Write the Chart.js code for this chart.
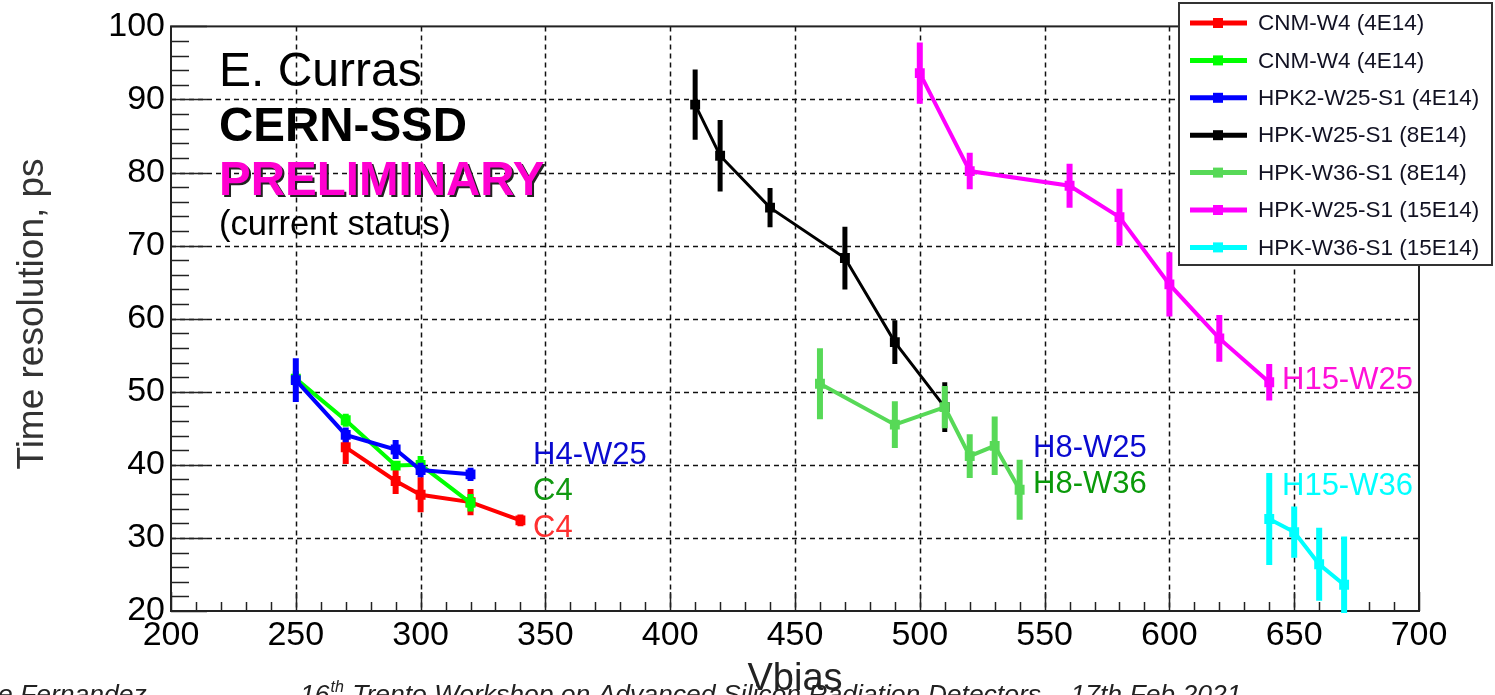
<!DOCTYPE html>
<html>
<head>
<meta charset="utf-8">
<script src="https://cdn.jsdelivr.net/npm/chart.js@4.4.1/dist/chart.umd.min.js"></script>
<style>
  html, body { margin: 0; padding: 0; background: #fff; overflow: hidden; }
  canvas { display: block; }
</style>
</head>
<body>
<canvas id="resPlot" width="1495" height="695"></canvas>
<script>
// series names, in drawing order
const seriesLabels = [
  'CNM-W4 (4E14)', 'CNM-W4 (4E14)', 'HPK2-W25-S1 (4E14)', 'HPK-W25-S1 (8E14)',
  'HPK-W36-S1 (8E14)', 'HPK-W25-S1 (15E14)', 'HPK-W36-S1 (15E14)'
];

// bias voltage (V), time resolution (ps) and its error (ps) per series
const cnmRedV = [270, 290, 300, 320, 340];
const cnmRedT = [42.4, 37.8, 35.9, 34.9, 32.4];
const cnmRedE = [2.3, 1.8, 2.4, 1.8, 0.8];

const cnmGreenV = [250, 270, 290, 300, 320];
const cnmGreenT = [51.8, 46.1, 39.9, 40.0, 34.8];
const cnmGreenE = [1.0, 0.9, 0.5, 1.2, 1.2];

const hpk2W25V = [250, 270, 290, 300, 320];
const hpk2W25T = [51.6, 44.1, 42.1, 39.3, 38.7];
const hpk2W25E = [3.0, 1.0, 1.3, 1.0, 0.9];

const w25e8V = [410, 420, 440, 470, 490, 510];
const w25e8T = [89.3, 82.3, 75.2, 68.3, 56.8, 47.9];
const w25e8E = [4.8, 4.9, 2.7, 4.3, 3.0, 3.4];

const w36e8V = [460, 490, 510, 520, 530, 540];
const w36e8T = [51.1, 45.5, 47.9, 41.2, 42.6, 36.6];
const w36e8E = [4.85, 3.2, 2.9, 3.0, 4.0, 4.1];

const w25e15V = [500, 520, 560, 580, 600, 620, 640];
const w25e15T = [93.6, 80.2, 78.2, 73.9, 64.7, 57.3, 51.3];
const w25e15E = [4.2, 2.5, 3.0, 3.9, 4.4, 3.2, 2.5];

const w36e15V = [640, 650, 660, 670];
const w36e15T = [32.6, 30.8, 26.4, 23.6];
const w36e15E = [6.3, 3.5, 5.0, 6.6];

// axis ticks
const xTickValues = [200, 250, 300, 350, 400, 450, 500, 550, 600, 650, 700];
const yTickValues = [20, 30, 40, 50, 60, 70, 80, 90, 100];

const allV = [cnmRedV, cnmGreenV, hpk2W25V, w25e8V, w36e8V, w25e15V, w36e15V];
const allT = [cnmRedT, cnmGreenT, hpk2W25T, w25e8T, w36e8T, w25e15T, w36e15T];
const allE = [cnmRedE, cnmGreenE, hpk2W25E, w25e8E, w36e8E, w25e15E, w36e15E];

const colors = ['#ff0000', '#00ff00', '#0000ff', '#000000', '#57d957', '#ff00ff', '#00ffff'];
const lineW = [4, 4, 4, 3, 4, 4, 4];

const FONT = '"Liberation Sans", Arial, sans-serif';

const datasets = seriesLabels.map((label, i) => ({
  label: label,
  data: allV[i].map((v, k) => ({ x: v, y: allT[i][k] })),
  errors: allE[i],
  borderColor: colors[i],
  backgroundColor: colors[i],
  borderWidth: lineW[i],
  pointStyle: 'rect',
  pointRadius: 7,
  pointBorderWidth: 0,
  tension: 0,
  order: seriesLabels.length - i   // later series on top
}));

const decor = {
  id: 'decor',
  beforeDatasetsDraw(chart) {
    const { ctx, chartArea: a, scales: { x, y } } = chart;
    ctx.save();
    // dashed grid
    ctx.strokeStyle = '#111';
    ctx.lineWidth = 1.5;
    ctx.setLineDash([5, 4]);
    xTickValues.slice(1, -1).forEach(v => {
      const px = Math.round(x.getPixelForValue(v)) + 0.5;
      ctx.beginPath(); ctx.moveTo(px, a.top); ctx.lineTo(px, a.bottom); ctx.stroke();
    });
    yTickValues.slice(1, -1).forEach(v => {
      const py = Math.round(y.getPixelForValue(v)) + 0.5;
      ctx.beginPath(); ctx.moveTo(a.left, py); ctx.lineTo(a.right, py); ctx.stroke();
    });
    ctx.setLineDash([]);
    // tick marks
    ctx.strokeStyle = '#222';
    ctx.lineWidth = 1.5;
    for (let v = 200; v <= 700; v += 10) {
      const px = Math.round(x.getPixelForValue(v)) + 0.5;
      const len = v % 50 === 0 ? 19 : 9;
      ctx.beginPath(); ctx.moveTo(px, a.bottom); ctx.lineTo(px, a.bottom - len); ctx.stroke();
    }
    for (let v = 20; v <= 100; v += 2) {
      const py = Math.round(y.getPixelForValue(v)) + 0.5;
      const len = v % 10 === 0 ? 36 : 18;
      ctx.beginPath(); ctx.moveTo(a.left, py); ctx.lineTo(a.left + len, py); ctx.stroke();
    }
    // frame
    ctx.lineWidth = 2;
    ctx.strokeRect(a.left, a.top, a.right - a.left, a.bottom - a.top);
    ctx.restore();
  },
  afterDatasetDraw(chart, args) {
    const { ctx, chartArea: a, scales: { y } } = chart;
    const ds = chart.data.datasets[args.index];
    ctx.save();
    ctx.beginPath();
    ctx.rect(a.left, a.top - 2, a.right - a.left, a.bottom - a.top + 4);
    ctx.clip();
    ctx.strokeStyle = ds.borderColor;
    ctx.lineWidth = ds.borderWidth + 2;
    ds.data.forEach((p, k) => {
      const pt = args.meta.data[k];
      const e = ds.errors[k];
      ctx.beginPath();
      ctx.moveTo(pt.x, y.getPixelForValue(p.y + e));
      ctx.lineTo(pt.x, y.getPixelForValue(p.y - e));
      ctx.stroke();
    });
    ctx.restore();
  },
  afterDraw(chart) {
    const { ctx } = chart;
    ctx.save();
    ctx.textBaseline = 'alphabetic';
    ctx.textAlign = 'left';

    // author block
    ctx.fillStyle = '#000';
    ctx.font = `48px ${FONT}`;
    ctx.fillText('E. Curras', 219, 86);
    ctx.font = `bold 47.5px ${FONT}`;
    ctx.fillText('CERN-SSD', 219, 141);
    ctx.fillStyle = '#222';
    ctx.fillText('PRELIMINARY', 221, 197);
    ctx.fillStyle = '#ff00d0';
    ctx.fillText('PRELIMINARY', 219, 195);
    ctx.fillStyle = '#000';
    ctx.font = `34.5px ${FONT}`;
    ctx.fillText('(current status)', 219, 235);

    // curve tags
    ctx.font = `31px ${FONT}`;
    const tags = [
      ['H4-W25', '#0a0ad0', 533, 464],
      ['C4', '#119911', 533, 500],
      ['C4', '#ff3030', 533, 537],
      ['H8-W25', '#0a0ad0', 1033, 457],
      ['H8-W36', '#0a990a', 1033, 493],
      ['H15-W25', '#ff10d8', 1282, 389],
      ['H15-W36', '#00ffff', 1282, 495]
    ];
    tags.forEach(([t, c, tx, ty]) => { ctx.fillStyle = c; ctx.fillText(t, tx, ty); });

    // axis titles
    ctx.fillStyle = '#333';
    ctx.font = `37px ${FONT}`;
    ctx.save();
    ctx.translate(43, 314);
    ctx.rotate(-Math.PI / 2);
    ctx.textAlign = 'center';
    ctx.fillText('Time resolution, ps', 0, 0);
    ctx.restore();
    ctx.textAlign = 'center';
    ctx.font = `38px ${FONT}`;
    ctx.fillStyle = '#222';
    ctx.fillText('Vbias', 795, 690);

    // footer line
    ctx.textAlign = 'left';
    ctx.fillStyle = '#222';
    ctx.font = `italic 26.5px ${FONT}`;
    ctx.fillText('e Fernandez', -2, 703);
    ctx.fillText('16', 300, 703);
    const w16 = ctx.measureText('16').width;
    ctx.font = `italic 16px ${FONT}`;
    ctx.fillText('th', 300 + w16 + 1, 692);
    const wth = ctx.measureText('th').width;
    ctx.font = `italic 26.5px ${FONT}`;
    ctx.fillText(' Trento Workshop on Advanced Silicon Radiation Detectors \u2013 17th Feb 2021', 300 + w16 + wth + 2, 703);

    // legend box
    const lx = 1179, ly = 3, lw = 313, lh = 262;
    ctx.fillStyle = '#fff';
    ctx.fillRect(lx, ly, lw, lh);
    ctx.strokeStyle = '#333';
    ctx.lineWidth = 2;
    ctx.strokeRect(lx, ly, lw, lh);
    ctx.font = `22.5px ${FONT}`;
    ctx.textBaseline = 'middle';
    chart.data.datasets.forEach((ds, i) => {
      const ry = 23 + i * 37.4;
      ctx.strokeStyle = ds.borderColor;
      ctx.lineWidth = 5;
      ctx.beginPath(); ctx.moveTo(1190, ry); ctx.lineTo(1247, ry); ctx.stroke();
      ctx.fillStyle = ds.borderColor;
      ctx.fillRect(1213, ry - 5, 10, 10);
      ctx.fillStyle = '#111122';
      ctx.fillText(ds.label, 1258, ry + 1);
    });
    ctx.restore();
  }
};

new Chart(document.getElementById('resPlot'), {
  type: 'line',
  data: { datasets: datasets },
  options: {
    responsive: false,
    animation: false,
    devicePixelRatio: 1,
    layout: { padding: { left: 0, top: 21, right: 76, bottom: 0 } },
    plugins: { legend: { display: false }, tooltip: { enabled: false } },
    scales: {
      x: {
        type: 'linear', min: 200, max: 700,
        afterBuildTicks: s => { s.ticks = xTickValues.map(v => ({ value: v })); },
        afterFit: s => { s.height = 84; },
        grid: { display: false, drawTicks: false },
        border: { display: false },
        ticks: { autoSkip: false, maxRotation: 0, padding: 4, color: '#000', font: { family: FONT, size: 34 } }
      },
      y: {
        type: 'linear', min: 20, max: 100,
        afterBuildTicks: s => { s.ticks = yTickValues.map(v => ({ value: v })); },
        afterFit: s => { s.width = 171; },
        grid: { display: false, drawTicks: false },
        border: { display: false },
        ticks: { autoSkip: false, padding: 6, color: '#000', font: { family: FONT, size: 34 } }
      }
    }
  },
  plugins: [decor]
});
</script>
</body>
</html>
